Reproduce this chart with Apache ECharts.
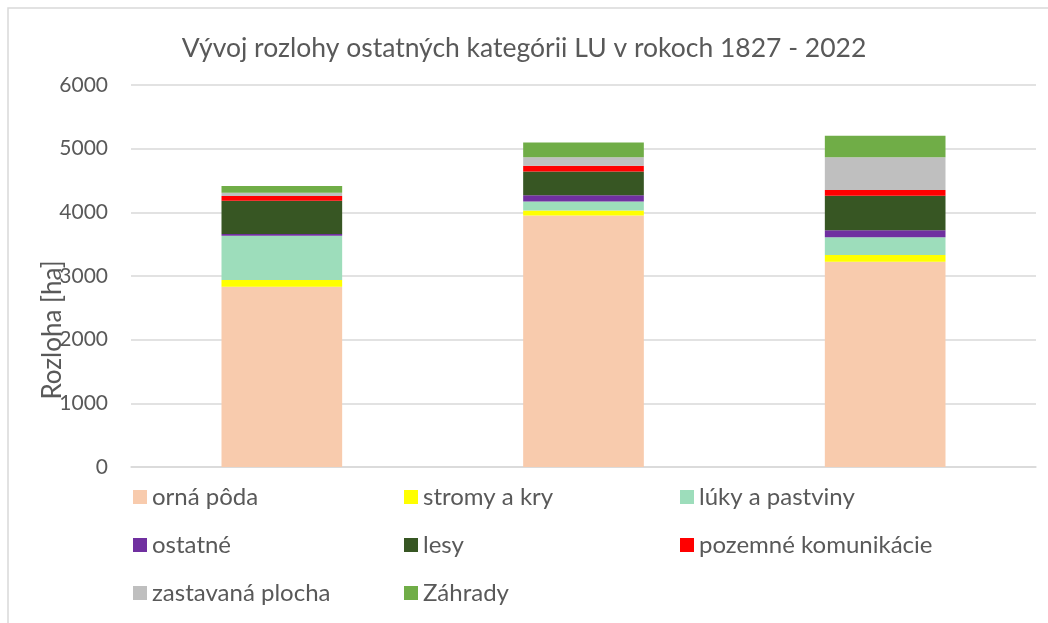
<!DOCTYPE html>
<html>
<head>
<meta charset="utf-8">
<script src="https://cdn.jsdelivr.net/npm/echarts@6/dist/echarts.min.js"></script>
<style>
  html, body { margin: 0; padding: 0; background: #fff; }
  #chart { width: 1048px; height: 623px; }
</style>
</head>
<body>
<div id="chart"></div>
<script>
// obdobia (popisky osi X nie su v grafe zobrazene)
const categories = ['1827', 'medziobdobie', '2022'];

// rozloha [ha] podla kategorii
const ornaPoda = [2832, 3950, 3224];
const stromyAKry = [105, 78, 106];
const lukyAPastviny = [696, 142, 278];
const ostatne = [27, 100, 110];
const lesy = [523, 371, 543];
const pozemneKomunikacie = [73, 89, 90];
const zastavanaPlocha = [52, 137, 513];
const zahrady = [105, 229, 340];

const yTicks = [0, 1000, 2000, 3000, 4000, 5000, 6000];

const textColor = '#595959';
const font = 'Lato';

const chart = echarts.init(document.getElementById('chart'));

function bar(name, data, color) {
  return {
    name: name,
    type: 'bar',
    stack: 'spolu',
    data: data,
    barWidth: '40%',
    itemStyle: { color: color },
    emphasis: { disabled: true }
  };
}

function legendCol(left, names) {
  return {
    orient: 'vertical',
    left: left,
    top: 484,
    padding: 0,
    data: names,
    icon: 'rect',
    itemWidth: 14,
    itemHeight: 14,
    itemGap: 22,
    textStyle: { color: textColor, fontSize: 24, fontFamily: font, lineHeight: 26 },
    selectedMode: false
  };
}

chart.setOption({
  animation: false,
  title: {
    text: 'Vývoj rozlohy ostatných kategórii LU v rokoch 1827 - 2022',
    left: 'center',
    top: 30,
    textStyle: { color: textColor, fontSize: 26.5, fontWeight: 'normal', fontFamily: font }
  },
  graphic: [
    {
      type: 'rect',
      shape: { x: 8, y: 8, width: 1100, height: 700 },
      style: { fill: 'none', stroke: '#d9d9d9', lineWidth: 1.5 },
      silent: true
    },
    {
      type: 'text',
      x: 53,
      y: 330,
      rotation: Math.PI / 2,
      style: {
        text: 'Rozloha [ha]',
        fill: textColor,
        fontSize: 26,
        fontFamily: font,
        align: 'center',
        verticalAlign: 'middle'
      }
    }
  ],
  legend: [
    legendCol(133, ['orná pôda', 'ostatné', 'zastavaná plocha']),
    legendCol(404, ['stromy a kry', 'lesy', 'Záhrady']),
    legendCol(680, ['lúky a pastviny', 'pozemné komunikácie'])
  ],
  grid: { left: 131, right: 12, top: 85, bottom: 156 },
  xAxis: {
    type: 'category',
    data: categories,
    axisLine: { lineStyle: { color: '#d9d9d9', width: 1.5 } },
    axisTick: { show: false },
    axisLabel: { show: false }
  },
  yAxis: {
    type: 'value',
    min: yTicks[0],
    max: yTicks[yTicks.length - 1],
    interval: 1000,
    axisLine: { show: false },
    axisTick: { show: false },
    axisLabel: {
      color: textColor,
      fontSize: 21,
      fontFamily: font,
      margin: 23,
      formatter: function (v) { return String(v); }
    },
    splitLine: { lineStyle: { color: '#d9d9d9', width: 1.5 } }
  },
  series: [
    bar('orná pôda', ornaPoda, '#F8CBAD'),
    bar('stromy a kry', stromyAKry, '#FFFF00'),
    bar('lúky a pastviny', lukyAPastviny, '#9DDDBB'),
    bar('ostatné', ostatne, '#7030A0'),
    bar('lesy', lesy, '#375623'),
    bar('pozemné komunikácie', pozemneKomunikacie, '#FF0000'),
    bar('zastavaná plocha', zastavanaPlocha, '#BFBFBF'),
    bar('Záhrady', zahrady, '#70AD47')
  ]
});
</script>
</body>
</html>
